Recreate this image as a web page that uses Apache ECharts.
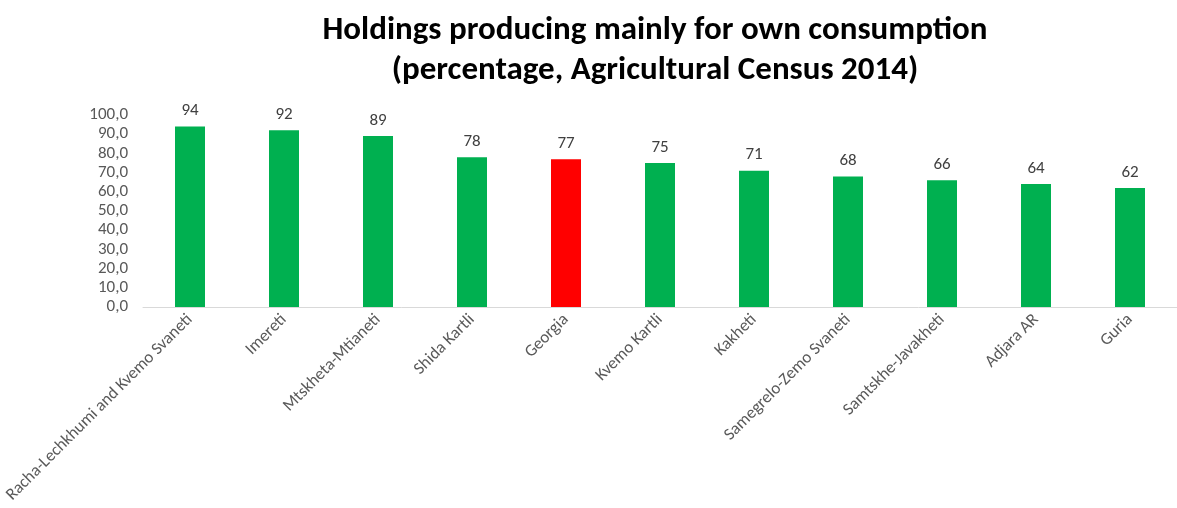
<!DOCTYPE html>
<html>
<head>
<meta charset="utf-8">
<script src="https://cdn.jsdelivr.net/npm/echarts@6/dist/echarts.min.js"></script>
<style>
  html, body { margin: 0; padding: 0; background: #fff; }
  #chart { width: 1177px; height: 508px; }
</style>
</head>
<body>
<div id="chart"></div>
<script>
const regions = ['Racha-Lechkhumi and Kvemo Svaneti', 'Imereti', 'Mtskheta-Mtianeti', 'Shida Kartli', 'Georgia',
  'Kvemo Kartli', 'Kakheti', 'Samegrelo-Zemo Svaneti', 'Samtskhe-Javakheti', 'Adjara AR', 'Guria']
const shares = [94, 92, 89, 78, 77, 75, 71, 68, 66, 64, 62]
const highlight = 'Georgia'

const chart = echarts.init(document.getElementById('chart'))

const font = 'Calibri, Carlito, "Open Sans", sans-serif'

const option = {
  animation: false,
  title: {
    text: 'Holdings producing mainly for own consumption\n(percentage, Agricultural Census 2014)',
    left: 650,
    top: 6,
    textAlign: 'center',
    textStyle: {
      fontFamily: font,
      fontSize: 33,
      fontWeight: 'bold',
      color: '#000',
      lineHeight: 40
    }
  },
  grid: {
    left: 143,
    right: -8,
    top: 115,
    bottom: 201
  },
  xAxis: {
    type: 'category',
    data: regions,
    axisLine: { lineStyle: { color: '#d9d9d9', width: 1 } },
    axisTick: { show: false },
    axisLabel: {
      interval: 0,
      rotate: 45,
      margin: 10,
      color: '#595959',
      fontFamily: font,
      fontSize: 17
    }
  },
  yAxis: {
    type: 'value',
    min: 0,
    max: 100,
    interval: 10,
    splitLine: { show: false },
    axisLine: { show: false },
    axisTick: { show: false },
    axisLabel: {
      margin: 15,
      color: '#595959',
      fontFamily: font,
      fontSize: 17,
      formatter: v => v.toFixed(1).replace('.', ',')
    }
  },
  series: [{
    type: 'bar',
    barWidth: 30,
    data: shares.map((v, i) => ({
      value: v,
      itemStyle: { color: regions[i] === highlight ? '#ff0000' : '#00b050' }
    })),
    label: {
      show: true,
      position: 'top',
      distance: 7,
      color: '#404040',
      fontFamily: font,
      fontSize: 17
    }
  }]
}

chart.setOption(option)
</script>
</body>
</html>
